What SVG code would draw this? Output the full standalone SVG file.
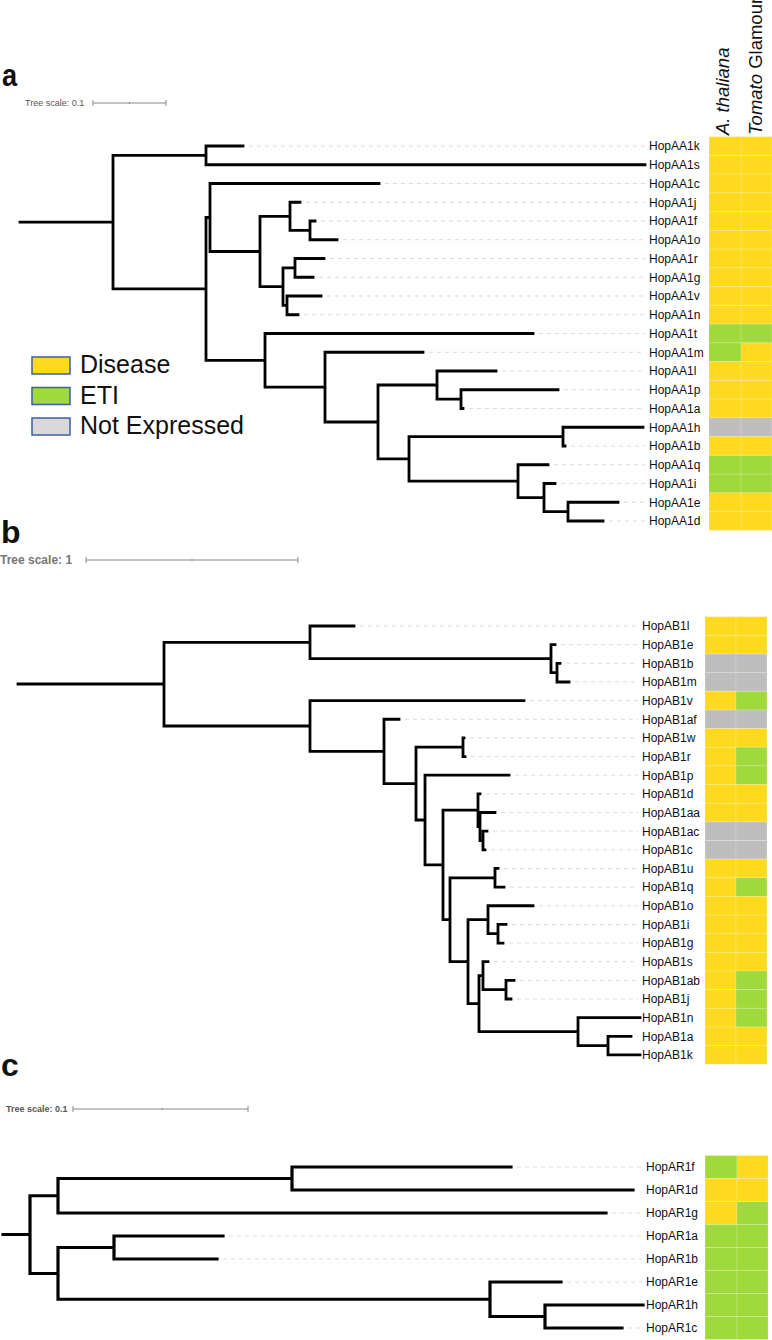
<svg xmlns="http://www.w3.org/2000/svg" width="772" height="1340" viewBox="0 0 772 1340">
<style>
.br{fill:none;stroke:#000;stroke-width:2.8;stroke-linecap:square}
.brc{fill:none;stroke:#000;stroke-width:3.2;stroke-linecap:square}
.gd{fill:none;stroke:#dadada;stroke-width:1;stroke-dasharray:4 4}
.lb{font-family:"Liberation Sans",Arial,sans-serif;font-size:12px;fill:#111}
.Y{fill:#FEDA1F}.G{fill:#A0D93B}.N{fill:#BEBEBE}
.cell{stroke:#ffffff;stroke-opacity:0.18;stroke-width:1}
.pl{font-family:"Liberation Sans",Arial,sans-serif;font-weight:bold;font-size:32px;fill:#111}
.ts{font-family:"Liberation Sans",Arial,sans-serif;font-size:9px;fill:#555}
.tsb{font-family:"Liberation Sans",Arial,sans-serif;font-size:12px;font-weight:bold;fill:#777}
.sb{fill:none;stroke:#888;stroke-width:1}
.hdr{font-family:"Liberation Sans",Arial,sans-serif;font-size:18.5px;fill:#111}
.lg{font-family:"Liberation Sans",Arial,sans-serif;font-size:25px;fill:#111}
.lgb{stroke:#3D5FA5;stroke-width:1.5}
</style>

<!-- panel labels and scales -->
<g id="panel-a-title">
<text class="pl" x="2" y="86" transform="translate(2,0) scale(0.85,1) translate(-2,0)">a</text>
<text class="ts" x="25" y="106">Tree scale: 0.1</text>
<path class="sb" d="M93,103 H166 M93,100 V106 M166,100 V106 M129.5,102 V104"/>
</g>
<g id="panel-b-title">
<text class="pl" x="1" y="543">b</text>
<text class="tsb" x="0" y="564">Tree scale: 1</text>
<path class="sb" d="M86,560 H298 M86,557 V563 M298,557 V563 M192,559 V561"/>
</g>
<g id="panel-c-title">
<text class="pl" x="1" y="1076">c</text>
<text class="ts" x="6" y="1112" font-weight="bold" fill="#777">Tree scale: 0.1</text>
<path class="sb" d="M73,1109 H248 M73,1106 V1112 M248,1106 V1112 M162,1108 V1110"/>
</g>

<g id="headers">
<text class="hdr" transform="translate(729,135) rotate(-90)"><tspan font-style="italic">A. thaliana</tspan></text>
<text class="hdr" transform="translate(762,135) rotate(-90)"><tspan font-style="italic">Tomato</tspan> Glamour</text>
</g>

<g id="legend">
<rect class="Y lgb" x="32" y="357" width="38" height="17"/>
<text class="lg" x="80" y="373">Disease</text>
<rect class="G lgb" x="32" y="387.5" width="38" height="17"/>
<text class="lg" x="80" y="403.5">ETI</text>
<rect class="lgb" fill="#D9D9D9" x="32" y="418" width="38" height="17"/>
<text class="lg" x="80" y="434">Not Expressed</text>
</g>

<g id="connectors">
<!-- guides panel a -->
<path class="gd" d="M249,146 H645 M385,183.5 H645 M306,202.25 H645 M321,221 H645 M343,239.75 H645 M330,258.5 H645 M319,277.25 H645 M327,296 H645 M304,314.75 H645 M539,333.5 H645 M429,352.25 H645 M502,371 H645 M564,389.75 H645 M469,408.5 H645 M571,446 H645 M554,464.75 H645 M561,483.5 H645 M624,502.25 H645 M609,521 H645"/>
<!-- panel a tree -->
<path class="br" d="M20,222.2 H113 M113,155.4 V288.9 M113,155.4 H206 M206,146 V164.75 M206,146 H243 M206,164.75 H645
M113,288.9 H206 M206,217.5 V360.3 M206,217.5 H210 M210,183.5 V251.5 M210,183.5 H379 M210,251.5 H260
M260,216.3 V286.6 M260,216.3 H290 M290,202.25 V230.4 M290,202.25 H300 M290,230.4 H310 M310,221 V239.75 M310,221 H315 M310,239.75 H337
M260,286.6 H283 M283,267.9 V305.4 M283,267.9 H295 M295,258.5 V277.25 M295,258.5 H324 M295,277.25 H313 M283,305.4 H287 M287,296 V314.75 M287,296 H321 M287,314.75 H298
M206,360.3 H265 M265,333.5 V387.1 M265,333.5 H533 M265,387.1 H325 M325,352.25 V422 M325,352.25 H423 M325,422 H378
M378,385 V458.9 M378,385 H437 M437,371 V399.1 M437,371 H496 M437,399.1 H461 M461,389.75 V408.5 M461,389.75 H558 M461,408.5 H463
M378,458.9 H409 M409,436.6 V481.2 M409,436.6 H563 M563,427.25 V446 M563,427.25 H643 M563,446 H565
M409,481.2 H518 M518,464.75 V497.6 M518,464.75 H548 M518,497.6 H544 M544,483.5 V511.6 M544,483.5 H555 M544,511.6 H568 M568,502.25 V521 M568,502.25 H618 M568,521 H603"/>

<!-- guides panel b -->
<path class="gd" d="M360,626 H638 M561,644.65 H638 M566,663.3 H638 M575,681.95 H638 M530,700.6 H638 M405,719.25 H638 M470,737.9 H638 M471,756.55 H638 M515,775.2 H638 M486,793.85 H638 M501,812.5 H638 M493,831.15 H638 M491,849.8 H638 M504,868.45 H638 M510,887.1 H638 M539,905.75 H638 M512,924.4 H638 M509,943.05 H638 M494,961.7 H638 M520,980.35 H638 M517,999 H638 M637,1036.3 H638"/>
<!-- panel b tree -->
<path class="br" d="M18,684 H164 M164,642.3 V726 M164,642.3 H310 M310,626 V658.6 M310,626 H354 M310,658.6 H551 M551,644.65 V672.6 M551,644.65 H555 M551,672.6 H557 M557,663.3 V682 M557,663.3 H560 M557,682 H569
M164,726 H310 M310,700.6 V751.4 M310,700.6 H524 M310,751.4 H384 M384,719.25 V783.6 M384,719.25 H399 M384,783.6 H416
M416,747.2 V820 M416,747.2 H463 M463,737.9 V756.55 M463,737.9 H464 M463,756.55 H465 M416,820 H425 M425,775.2 V864.9 M425,775.2 H509 M425,864.9 H443
M443,810.2 V919.6 M443,810.2 H478 M478,793.85 V826.5 M478,793.85 H480 M478,826.5 H480 M480,812.5 V840.5 M480,812.5 H495 M480,840.5 H483 M483,831.15 V849.8 M483,831.15 H487 M483,849.8 H485
M443,919.6 H450 M450,877.8 V961.7 M450,877.8 H495 M495,868.45 V887.1 M495,868.45 H498 M495,887.1 H504
M450,961.7 H468 M468,919.7 V1003.7 M468,919.7 H488 M488,905.75 V933.7 M488,905.75 H533 M488,933.7 H498 M498,924.4 V943.05 M498,924.4 H506 M498,943.05 H503
M468,1003.7 H479 M479,975.7 V1031.6 M479,975.7 H483 M483,961.7 V989.7 M483,961.7 H488 M483,989.7 H506 M506,980.35 V999 M506,980.35 H514 M506,999 H511
M479,1031.6 H578 M578,1017.65 V1045.6 M578,1017.65 H640 M578,1045.6 H608 M608,1036.3 V1054.95 M608,1036.3 H631 M608,1054.95 H640"/>

<!-- guides panel c -->
<path class="gd" d="M517,1167 H642 M612,1213 H642 M229,1236 H642 M223,1259 H642 M567,1282 H642 M628,1328 H642"/>
<!-- panel c tree -->
<path class="brc" d="M3,1234.5 H30 M30,1195.75 V1273.5 M30,1195.75 H58 M58,1178.5 V1213 M58,1178.5 H292 M292,1167 V1190 M292,1167 H511 M292,1190 H633 M58,1213 H606
M30,1273.5 H58 M58,1247.5 V1299.25 M58,1247.5 H114 M114,1236 V1259 M114,1236 H223 M114,1259 H217
M58,1299.25 H490 M490,1282 V1316.5 M490,1282 H561 M490,1316.5 H545 M545,1305 V1328 M545,1305 H643 M545,1328 H622"/>
</g>

<!-- panel a leaves -->
<g id="a-HopAA1k"><rect class="Y cell" x="709" y="136.6" width="32" height="18.75"/><rect class="Y cell" x="741" y="136.6" width="31" height="18.75"/><text class="lb" x="649" y="150.3">HopAA1k</text></g>
<g id="a-HopAA1s"><rect class="Y cell" x="709" y="155.4" width="32" height="18.75"/><rect class="Y cell" x="741" y="155.4" width="31" height="18.75"/><text class="lb" x="649" y="169">HopAA1s</text></g>
<g id="a-HopAA1c"><rect class="Y cell" x="709" y="174.1" width="32" height="18.75"/><rect class="Y cell" x="741" y="174.1" width="31" height="18.75"/><text class="lb" x="649" y="187.8">HopAA1c</text></g>
<g id="a-HopAA1j"><rect class="Y cell" x="709" y="192.9" width="32" height="18.75"/><rect class="Y cell" x="741" y="192.9" width="31" height="18.75"/><text class="lb" x="649" y="206.5">HopAA1j</text></g>
<g id="a-HopAA1f"><rect class="Y cell" x="709" y="211.6" width="32" height="18.75"/><rect class="Y cell" x="741" y="211.6" width="31" height="18.75"/><text class="lb" x="649" y="225.3">HopAA1f</text></g>
<g id="a-HopAA1o"><rect class="Y cell" x="709" y="230.4" width="32" height="18.75"/><rect class="Y cell" x="741" y="230.4" width="31" height="18.75"/><text class="lb" x="649" y="244">HopAA1o</text></g>
<g id="a-HopAA1r"><rect class="Y cell" x="709" y="249.1" width="32" height="18.75"/><rect class="Y cell" x="741" y="249.1" width="31" height="18.75"/><text class="lb" x="649" y="262.8">HopAA1r</text></g>
<g id="a-HopAA1g"><rect class="Y cell" x="709" y="267.9" width="32" height="18.75"/><rect class="Y cell" x="741" y="267.9" width="31" height="18.75"/><text class="lb" x="649" y="281.5">HopAA1g</text></g>
<g id="a-HopAA1v"><rect class="Y cell" x="709" y="286.6" width="32" height="18.75"/><rect class="Y cell" x="741" y="286.6" width="31" height="18.75"/><text class="lb" x="649" y="300.3">HopAA1v</text></g>
<g id="a-HopAA1n"><rect class="Y cell" x="709" y="305.4" width="32" height="18.75"/><rect class="Y cell" x="741" y="305.4" width="31" height="18.75"/><text class="lb" x="649" y="319">HopAA1n</text></g>
<g id="a-HopAA1t"><rect class="G cell" x="709" y="324.1" width="32" height="18.75"/><rect class="G cell" x="741" y="324.1" width="31" height="18.75"/><text class="lb" x="649" y="337.8">HopAA1t</text></g>
<g id="a-HopAA1m"><rect class="G cell" x="709" y="342.9" width="32" height="18.75"/><rect class="Y cell" x="741" y="342.9" width="31" height="18.75"/><text class="lb" x="649" y="356.5">HopAA1m</text></g>
<g id="a-HopAA1l"><rect class="Y cell" x="709" y="361.6" width="32" height="18.75"/><rect class="Y cell" x="741" y="361.6" width="31" height="18.75"/><text class="lb" x="649" y="375.3">HopAA1l</text></g>
<g id="a-HopAA1p"><rect class="Y cell" x="709" y="380.4" width="32" height="18.75"/><rect class="Y cell" x="741" y="380.4" width="31" height="18.75"/><text class="lb" x="649" y="394">HopAA1p</text></g>
<g id="a-HopAA1a"><rect class="Y cell" x="709" y="399.1" width="32" height="18.75"/><rect class="Y cell" x="741" y="399.1" width="31" height="18.75"/><text class="lb" x="649" y="412.8">HopAA1a</text></g>
<g id="a-HopAA1h"><rect class="N cell" x="709" y="417.9" width="32" height="18.75"/><rect class="N cell" x="741" y="417.9" width="31" height="18.75"/><text class="lb" x="649" y="431.5">HopAA1h</text></g>
<g id="a-HopAA1b"><rect class="Y cell" x="709" y="436.6" width="32" height="18.75"/><rect class="Y cell" x="741" y="436.6" width="31" height="18.75"/><text class="lb" x="649" y="450.3">HopAA1b</text></g>
<g id="a-HopAA1q"><rect class="G cell" x="709" y="455.4" width="32" height="18.75"/><rect class="G cell" x="741" y="455.4" width="31" height="18.75"/><text class="lb" x="649" y="469">HopAA1q</text></g>
<g id="a-HopAA1i"><rect class="G cell" x="709" y="474.1" width="32" height="18.75"/><rect class="G cell" x="741" y="474.1" width="31" height="18.75"/><text class="lb" x="649" y="487.8">HopAA1i</text></g>
<g id="a-HopAA1e"><rect class="Y cell" x="709" y="492.9" width="32" height="18.75"/><rect class="Y cell" x="741" y="492.9" width="31" height="18.75"/><text class="lb" x="649" y="506.5">HopAA1e</text></g>
<g id="a-HopAA1d"><rect class="Y cell" x="709" y="511.6" width="32" height="18.75"/><rect class="Y cell" x="741" y="511.6" width="31" height="18.75"/><text class="lb" x="649" y="525.3">HopAA1d</text></g>

<!-- panel b leaves -->
<g id="b-HopAB1l"><rect class="Y cell" x="705" y="616.7" width="31" height="18.65"/><rect class="Y cell" x="736" y="616.7" width="31" height="18.65"/><text class="lb" x="642" y="630.3">HopAB1l</text></g>
<g id="b-HopAB1e"><rect class="Y cell" x="705" y="635.3" width="31" height="18.65"/><rect class="Y cell" x="736" y="635.3" width="31" height="18.65"/><text class="lb" x="642" y="649">HopAB1e</text></g>
<g id="b-HopAB1b"><rect class="N cell" x="705" y="654" width="31" height="18.65"/><rect class="N cell" x="736" y="654" width="31" height="18.65"/><text class="lb" x="642" y="667.6">HopAB1b</text></g>
<g id="b-HopAB1m"><rect class="N cell" x="705" y="672.6" width="31" height="18.65"/><rect class="N cell" x="736" y="672.6" width="31" height="18.65"/><text class="lb" x="642" y="686.3">HopAB1m</text></g>
<g id="b-HopAB1v"><rect class="Y cell" x="705" y="691.3" width="31" height="18.65"/><rect class="G cell" x="736" y="691.3" width="31" height="18.65"/><text class="lb" x="642" y="704.9">HopAB1v</text></g>
<g id="b-HopAB1af"><rect class="N cell" x="705" y="709.9" width="31" height="18.65"/><rect class="N cell" x="736" y="709.9" width="31" height="18.65"/><text class="lb" x="642" y="723.6">HopAB1af</text></g>
<g id="b-HopAB1w"><rect class="Y cell" x="705" y="728.6" width="31" height="18.65"/><rect class="Y cell" x="736" y="728.6" width="31" height="18.65"/><text class="lb" x="642" y="742.2">HopAB1w</text></g>
<g id="b-HopAB1r"><rect class="Y cell" x="705" y="747.2" width="31" height="18.65"/><rect class="G cell" x="736" y="747.2" width="31" height="18.65"/><text class="lb" x="642" y="760.9">HopAB1r</text></g>
<g id="b-HopAB1p"><rect class="Y cell" x="705" y="765.9" width="31" height="18.65"/><rect class="G cell" x="736" y="765.9" width="31" height="18.65"/><text class="lb" x="642" y="779.5">HopAB1p</text></g>
<g id="b-HopAB1d"><rect class="Y cell" x="705" y="784.5" width="31" height="18.65"/><rect class="Y cell" x="736" y="784.5" width="31" height="18.65"/><text class="lb" x="642" y="798.2">HopAB1d</text></g>
<g id="b-HopAB1aa"><rect class="Y cell" x="705" y="803.2" width="31" height="18.65"/><rect class="Y cell" x="736" y="803.2" width="31" height="18.65"/><text class="lb" x="642" y="816.8">HopAB1aa</text></g>
<g id="b-HopAB1ac"><rect class="N cell" x="705" y="821.8" width="31" height="18.65"/><rect class="N cell" x="736" y="821.8" width="31" height="18.65"/><text class="lb" x="642" y="835.5">HopAB1ac</text></g>
<g id="b-HopAB1c"><rect class="N cell" x="705" y="840.5" width="31" height="18.65"/><rect class="N cell" x="736" y="840.5" width="31" height="18.65"/><text class="lb" x="642" y="854.1">HopAB1c</text></g>
<g id="b-HopAB1u"><rect class="Y cell" x="705" y="859.1" width="31" height="18.65"/><rect class="Y cell" x="736" y="859.1" width="31" height="18.65"/><text class="lb" x="642" y="872.8">HopAB1u</text></g>
<g id="b-HopAB1q"><rect class="Y cell" x="705" y="877.8" width="31" height="18.65"/><rect class="G cell" x="736" y="877.8" width="31" height="18.65"/><text class="lb" x="642" y="891.4">HopAB1q</text></g>
<g id="b-HopAB1o"><rect class="Y cell" x="705" y="896.4" width="31" height="18.65"/><rect class="Y cell" x="736" y="896.4" width="31" height="18.65"/><text class="lb" x="642" y="910.1">HopAB1o</text></g>
<g id="b-HopAB1i"><rect class="Y cell" x="705" y="915.1" width="31" height="18.65"/><rect class="Y cell" x="736" y="915.1" width="31" height="18.65"/><text class="lb" x="642" y="928.7">HopAB1i</text></g>
<g id="b-HopAB1g"><rect class="Y cell" x="705" y="933.7" width="31" height="18.65"/><rect class="Y cell" x="736" y="933.7" width="31" height="18.65"/><text class="lb" x="642" y="947.4">HopAB1g</text></g>
<g id="b-HopAB1s"><rect class="Y cell" x="705" y="952.4" width="31" height="18.65"/><rect class="Y cell" x="736" y="952.4" width="31" height="18.65"/><text class="lb" x="642" y="966">HopAB1s</text></g>
<g id="b-HopAB1ab"><rect class="Y cell" x="705" y="971" width="31" height="18.65"/><rect class="G cell" x="736" y="971" width="31" height="18.65"/><text class="lb" x="642" y="984.7">HopAB1ab</text></g>
<g id="b-HopAB1j"><rect class="Y cell" x="705" y="989.7" width="31" height="18.65"/><rect class="G cell" x="736" y="989.7" width="31" height="18.65"/><text class="lb" x="642" y="1003.3">HopAB1j</text></g>
<g id="b-HopAB1n"><rect class="Y cell" x="705" y="1008.3" width="31" height="18.65"/><rect class="G cell" x="736" y="1008.3" width="31" height="18.65"/><text class="lb" x="642" y="1022">HopAB1n</text></g>
<g id="b-HopAB1a"><rect class="Y cell" x="705" y="1027" width="31" height="18.65"/><rect class="Y cell" x="736" y="1027" width="31" height="18.65"/><text class="lb" x="642" y="1040.6">HopAB1a</text></g>
<g id="b-HopAB1k"><rect class="Y cell" x="705" y="1045.6" width="31" height="18.65"/><rect class="Y cell" x="736" y="1045.6" width="31" height="18.65"/><text class="lb" x="642" y="1059.3">HopAB1k</text></g>

<!-- panel c leaves -->
<g id="c-HopAR1f"><rect class="G cell" x="705" y="1155.5" width="32" height="23"/><rect class="Y cell" x="737" y="1155.5" width="31" height="23"/><text class="lb" x="646" y="1171.3">HopAR1f</text></g>
<g id="c-HopAR1d"><rect class="Y cell" x="705" y="1178.5" width="32" height="23"/><rect class="Y cell" x="737" y="1178.5" width="31" height="23"/><text class="lb" x="646" y="1194.3">HopAR1d</text></g>
<g id="c-HopAR1g"><rect class="Y cell" x="705" y="1201.5" width="32" height="23"/><rect class="G cell" x="737" y="1201.5" width="31" height="23"/><text class="lb" x="646" y="1217.3">HopAR1g</text></g>
<g id="c-HopAR1a"><rect class="G cell" x="705" y="1224.5" width="32" height="23"/><rect class="G cell" x="737" y="1224.5" width="31" height="23"/><text class="lb" x="646" y="1240.3">HopAR1a</text></g>
<g id="c-HopAR1b"><rect class="G cell" x="705" y="1247.5" width="32" height="23"/><rect class="G cell" x="737" y="1247.5" width="31" height="23"/><text class="lb" x="646" y="1263.3">HopAR1b</text></g>
<g id="c-HopAR1e"><rect class="G cell" x="705" y="1270.5" width="32" height="23"/><rect class="G cell" x="737" y="1270.5" width="31" height="23"/><text class="lb" x="646" y="1286.3">HopAR1e</text></g>
<g id="c-HopAR1h"><rect class="G cell" x="705" y="1293.5" width="32" height="23"/><rect class="G cell" x="737" y="1293.5" width="31" height="23"/><text class="lb" x="646" y="1309.3">HopAR1h</text></g>
<g id="c-HopAR1c"><rect class="G cell" x="705" y="1316.5" width="32" height="23"/><rect class="G cell" x="737" y="1316.5" width="31" height="23"/><text class="lb" x="646" y="1332.3">HopAR1c</text></g>
</svg>
